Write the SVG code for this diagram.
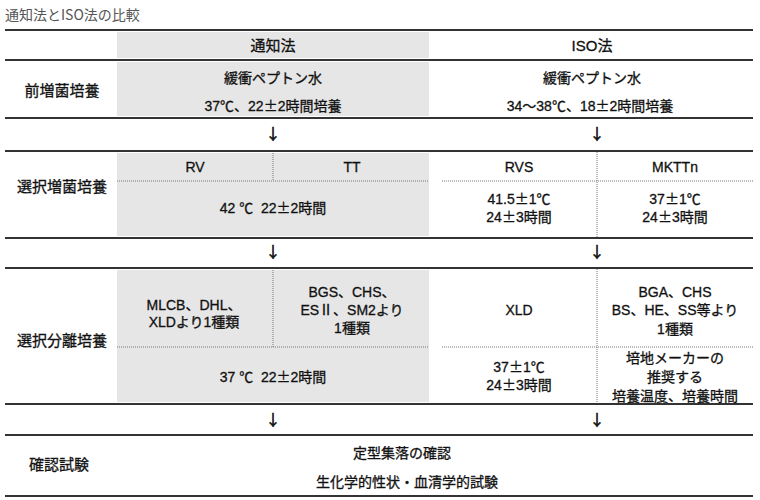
<svg xmlns="http://www.w3.org/2000/svg" width="760" height="500" viewBox="0 0 760 500">
<style>
text{font-family:"Liberation Sans","Noto Sans CJK JP",sans-serif;font-size:14px;fill:#111;stroke:#111;stroke-width:0.3;text-anchor:middle}
.title{font-size:14px;fill:#555;stroke:none;text-anchor:start}
.cjk{font-family:"Noto Sans CJK JP",sans-serif}
.lbl{font-size:15px}
tspan.pm{font-family:"Noto Sans CJK JP",sans-serif}
.rule{stroke:#333;stroke-width:2;fill:none}
.dot{stroke:#777;stroke-width:1;stroke-dasharray:1 1;fill:none}
.gray{fill:#e6e6e6}
.arr{font-family:"Noto Sans CJK JP",sans-serif;font-size:15px;stroke-width:0.6}
</style>
<rect width="760" height="500" fill="#fff"/>
<text class="title cjk" x="5" y="20">通知法とISO法の比較</text>

<g id="backgrounds">
<rect class="gray" x="117" y="32" width="312" height="26"/>
<rect class="gray" x="117" y="62" width="312" height="54"/>
<rect class="gray" x="117" y="153" width="312" height="83"/>
<rect class="gray" x="117" y="270" width="312" height="132"/>
</g>

<g id="rules">
<line class="rule" x1="5" y1="30" x2="753" y2="30"/>
<line class="rule" x1="5" y1="60" x2="753" y2="60"/>
<line class="rule" x1="5" y1="118" x2="753" y2="118"/>
<line class="rule" x1="5" y1="151" x2="753" y2="151"/>
<line class="rule" x1="5" y1="238" x2="753" y2="238"/>
<line class="rule" x1="5" y1="268" x2="753" y2="268"/>
<line class="rule" x1="5" y1="404" x2="753" y2="404"/>
<line class="rule" x1="5" y1="435" x2="753" y2="435"/>
<line class="rule" x1="5" y1="496" x2="753" y2="496"/>
<line class="dot" x1="273" y1="153" x2="273" y2="181"/>
<line class="dot" x1="117" y1="181" x2="429" y2="181"/>
<line class="dot" x1="597" y1="152" x2="597" y2="237"/>
<line class="dot" x1="442" y1="181" x2="753" y2="181"/>
<line class="dot" x1="273" y1="270" x2="273" y2="347"/>
<line class="dot" x1="117" y1="347" x2="429" y2="347"/>
<line class="dot" x1="597" y1="269" x2="597" y2="403"/>
<line class="dot" x1="442" y1="347" x2="753" y2="347"/>
</g>

<g id="header">
<text class="cjk lbl" x="273" y="51">通知法</text>
<text class="lbl" x="592" y="51">ISO法</text>
</g>

<g id="row-pre-enrichment">
<text class="cjk lbl" x="62" y="96">前増菌培養</text>
<text class="cjk" x="273" y="83">緩衝ペプトン水</text>
<text x="273" y="111">37℃、22<tspan class="pm">±</tspan>2時間培養</text>
<text class="cjk" x="592" y="83">緩衝ペプトン水</text>
<text x="590" y="111">34～38℃、18<tspan class="pm">±</tspan>2時間培養</text>
</g>

<g id="row-selective-enrichment">
<text class="cjk lbl" x="62" y="192">選択増菌培養</text>
<text x="195" y="172">RV</text>
<text x="352" y="172">TT</text>
<text x="273" y="213">42 ℃&#160; 22<tspan class="pm">±</tspan>2時間</text>
<text x="519" y="172">RVS</text>
<text x="675" y="172">MKTTn</text>
<text x="519" y="204">41.5<tspan class="pm">±</tspan>1℃</text>
<text x="519" y="222">24<tspan class="pm">±</tspan>3時間</text>
<text x="675" y="204">37<tspan class="pm">±</tspan>1℃</text>
<text x="675" y="222">24<tspan class="pm">±</tspan>3時間</text>
</g>

<g id="row-selective-isolation">
<text class="cjk lbl" x="62" y="346">選択分離培養</text>
<text x="194" y="310">MLCB、DHL、</text>
<text x="194" y="327">XLDより1種類</text>
<text x="352" y="297">BGS、CHS、</text>
<text x="352" y="315">ESⅡ、SM2より</text>
<text x="352" y="333">1種類</text>
<text x="273" y="382">37 ℃&#160; 22<tspan class="pm">±</tspan>2時間</text>
<text x="519" y="315">XLD</text>
<text x="675" y="297">BGA、CHS</text>
<text x="675" y="315">BS、HE、SS等より</text>
<text x="675" y="334">1種類</text>
<text x="519" y="372">37<tspan class="pm">±</tspan>1℃</text>
<text x="519" y="390">24<tspan class="pm">±</tspan>3時間</text>
<text class="cjk" x="675" y="363">培地メーカーの</text>
<text class="cjk" x="675" y="382">推奨する</text>
<text class="cjk" x="675" y="401">培養温度、培養時間</text>
</g>

<g id="row-confirmation">
<text class="cjk lbl" x="59" y="470">確認試験</text>
<text class="cjk" x="402" y="458">定型集落の確認</text>
<text class="cjk" x="407" y="487">生化学的性状・血清学的試験</text>
</g>

<g id="connectors">
<text class="arr" x="273" y="139">↓</text>
<text class="arr" x="597" y="139">↓</text>
<text class="arr" x="273" y="257">↓</text>
<text class="arr" x="597" y="257">↓</text>
<text class="arr" x="273" y="425">↓</text>
<text class="arr" x="597" y="425">↓</text>
</g>
</svg>
